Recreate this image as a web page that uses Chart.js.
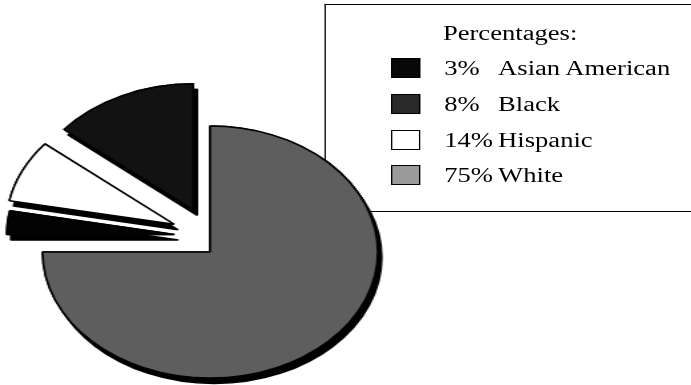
<!DOCTYPE html>
<html>
<head>
<meta charset="utf-8">
<script src="https://cdn.jsdelivr.net/npm/chart.js@4.4.0/dist/chart.umd.min.js"></script>
<style>
    html, body { margin: 0; padding: 0; background: #fff; width: 691px; height: 385px; overflow: hidden; }
    /* the scan is stretched sideways, so everything is drawn narrow and widened */
    #page { position: absolute; left: 0; top: 0; width: 520px; height: 385px; transform: scaleX(1.33); transform-origin: 0 0; }
    #box { position: absolute; left: 244px; top: 4px; width: 420px; height: 206px; border: 1.5px solid #000; border-right: none; }
    #pie { position: absolute; left: -22px; top: 72px; }
    .txt { position: absolute; font-family: "Liberation Serif", "Times New Roman", serif; font-size: 20px; line-height: 20px; color: #000; white-space: nowrap; }
    .swatch { position: absolute; width: 20px; height: 18px; border: 1px solid #000; }
</style>
</head>
<body>
<div id="page">
    <div id="box"></div>
    <div id="legend"></div>
    <canvas id="pie" width="360" height="360"></canvas>
</div>
<script>
const legendTitle = "Percentages:";
const categories = ["Asian American", "Black", "Hispanic", "White"];
const percentages = [3, 8, 14, 75];
const legendColors = ["#080808", "#2a2a2a", "#ffffff", "#9a9a9a"];

// slices go clockwise from 12 o'clock: White, Asian American, Black, Hispanic
const pieOrder = [3, 0, 1, 2];
const sliceColors = ["#5e5e5e", "#030303", "#ffffff", "#121212"];
const explode = [0, 27, 30, 30];
const explodeLift = 15;

function renderLegend() {
    const box = document.getElementById("legend");
    const rowBase = [75, 110.5, 146.5, 182];

    box.innerHTML = `<div class="txt" style="left:333px;top:${40 - 17}px">${legendTitle}</div>`;

    categories.forEach((name, i) => {
        const top = rowBase[i] - 17;
        box.innerHTML += `
            <div class="swatch" style="left:294px;top:${top}px;background:${legendColors[i]}"></div>
            <div class="txt" style="left:334px;top:${top}px">${percentages[i]}%</div>
            <div class="txt" style="left:374.5px;top:${top}px">${name}</div>
        `;
    });
}

// pulls the small slices out along their middle angle and lifts them a bit,
// with a dark drop edge under each slice like the 3D original
const explodePlugin = {
    id: "explode",
    beforeDatasetDraw(chart, args) {
        const ctx = chart.ctx;
        args.meta.data.forEach((arc, i) => {
            const mid = (arc.startAngle + arc.endAngle) / 2;
            const lift = explode[i] ? explodeLift : 0;
            ctx.save();
            ctx.translate(Math.cos(mid) * explode[i], Math.sin(mid) * explode[i] - lift);
            ctx.shadowColor = "#000";
            ctx.shadowOffsetX = 3;
            ctx.shadowOffsetY = 5.5;
            arc.draw(ctx);
            // second pass without shadow hides the stroke's shadow inside the slice
            ctx.shadowColor = "transparent";
            arc.draw(ctx);
            ctx.restore();
        });
        return false;
    }
};

function renderPie() {
    const ctx = document.getElementById("pie").getContext("2d");

    new Chart(ctx, {
        type: "pie",
        data: {
            labels: pieOrder.map(i => categories[i]),
            datasets: [{
                data: pieOrder.map(i => percentages[i]),
                backgroundColor: sliceColors,
                borderColor: "#000",
                borderWidth: 1.5
            }]
        },
        options: {
            responsive: false,
            animation: false,
            events: [],
            radius: 126,
            rotation: 0,
            layout: { padding: 0 },
            plugins: { legend: { display: false }, tooltip: { enabled: false } }
        },
        plugins: [explodePlugin]
    });
}

renderLegend();
renderPie();
</script>
</body>
</html>
